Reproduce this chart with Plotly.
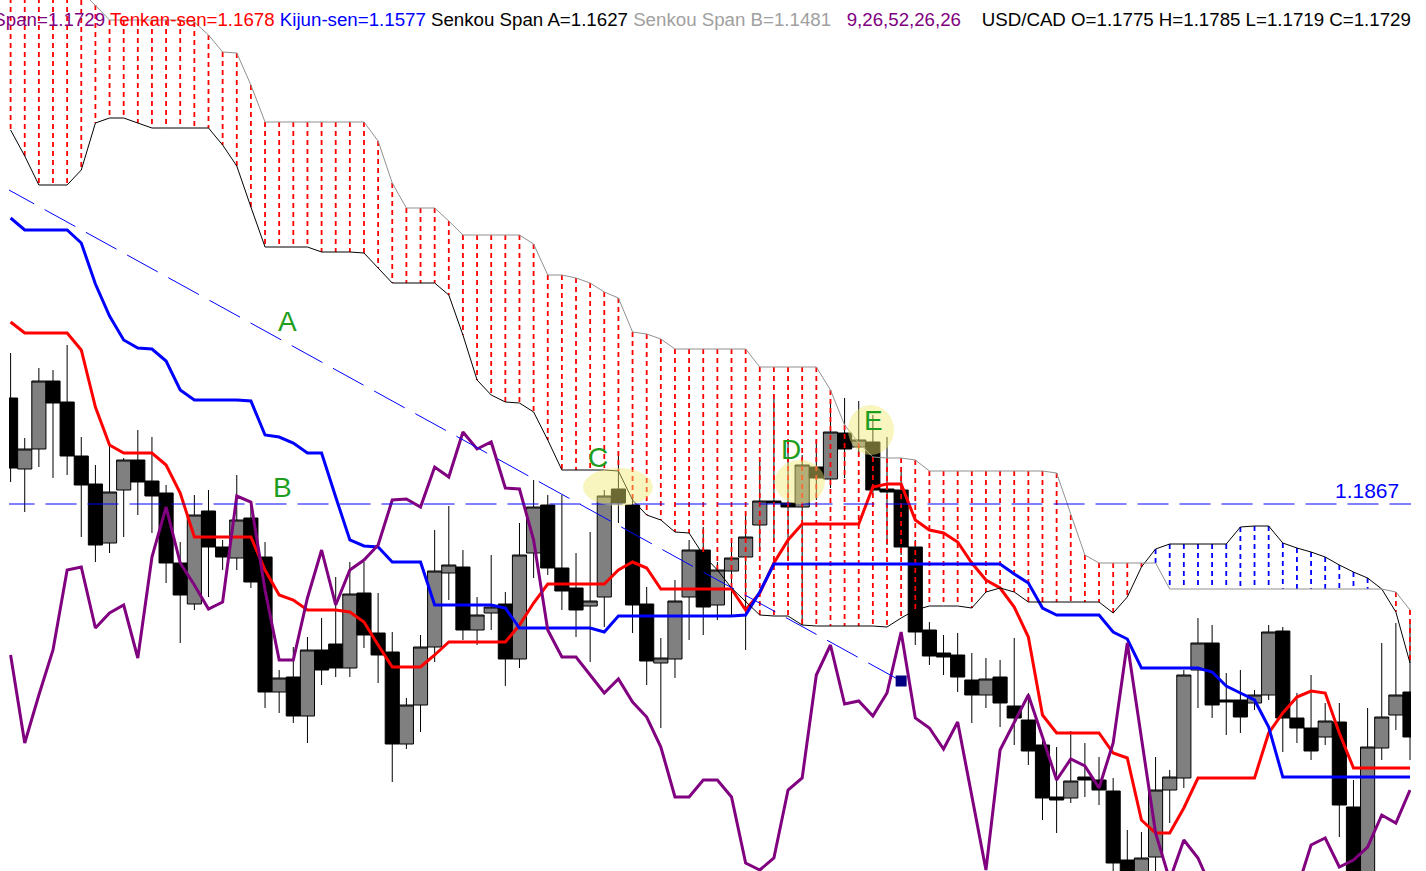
import plotly.graph_objects as go

bars = list(range(100))

open_ = [1.1973, 1.1902, 1.1922, 1.1990, 1.1969, 1.1915, 1.1887, 1.1828, 1.1881, 1.1911,
         1.1890, 1.1878, 1.1808, 1.1767, 1.1860, 1.1824, 1.1813, 1.1853, 1.1814, 1.1679,
         1.1694, 1.1655, 1.1721, 1.1727, 1.1703, 1.1778, 1.1738, 1.1719, 1.1627, 1.1666,
         1.1724, 1.1798, 1.1804, 1.1741, 1.1758, 1.1767, 1.1712, 1.1818, 1.1866, 1.1803,
         1.1783, 1.1765, 1.1774, 1.1882, 1.1866, 1.1767, 1.1708, 1.1712, 1.1774, 1.1821,
         1.1766, 1.1800, 1.1814, 1.1846, 1.1870, 1.1868, 1.1864, 1.1904, 1.1892, 1.1938,
         1.1924, 1.1929, 1.1882, 1.1881, 1.1824, 1.1741, 1.1718, 1.1716, 1.1691, 1.1676,
         1.1694, 1.1665, 1.1651, 1.1626, 1.1574, 1.1573, 1.1594, 1.1591, 1.1580, 1.1511,
         1.1491, 1.1514, 1.1581, 1.1593, 1.1701, 1.1728, 1.1671, 1.1671, 1.1668, 1.1676,
         1.1740, 1.1653, 1.1643, 1.1634, 1.1649, 1.1564, 1.1481, 1.1623, 1.1656, 1.1679]

close = [1.1903, 1.1922, 1.1990, 1.1968, 1.1915, 1.1886, 1.1826, 1.1879, 1.1911, 1.1889,
         1.1875, 1.1808, 1.1776, 1.1856, 1.1824, 1.1814, 1.1851, 1.1789, 1.1679, 1.1693,
         1.1655, 1.1721, 1.1701, 1.1703, 1.1777, 1.1736, 1.1716, 1.1627, 1.1666, 1.1724,
         1.1800, 1.1806, 1.1741, 1.1756, 1.1764, 1.1712, 1.1816, 1.1864, 1.1803, 1.1780,
         1.1761, 1.1770, 1.1875, 1.1868, 1.1766, 1.1710, 1.1713, 1.1770, 1.1821, 1.1764,
         1.1801, 1.1813, 1.1834, 1.1870, 1.1868, 1.1864, 1.1906, 1.1893, 1.1939, 1.1922,
         1.1931, 1.1881, 1.1879, 1.1824, 1.1739, 1.1715, 1.1714, 1.1694, 1.1676, 1.1692,
         1.1668, 1.1653, 1.1620, 1.1573, 1.1571, 1.1590, 1.1591, 1.1581, 1.1508, 1.1496,
         1.1513, 1.1581, 1.1594, 1.1696, 1.1728, 1.1666, 1.1669, 1.1654, 1.1676, 1.1739,
         1.1653, 1.1643, 1.1620, 1.1650, 1.1566, 1.1481, 1.1624, 1.1654, 1.1676, 1.1634]

high = [1.2018, 1.1933, 1.2003, 1.2001, 1.2026, 1.1934, 1.1906, 1.1926, 1.1913, 1.1941,
        1.1934, 1.1886, 1.1829, 1.1876, 1.1881, 1.1831, 1.1896, 1.1866, 1.1829, 1.1701,
        1.1724, 1.1734, 1.1753, 1.1794, 1.1809, 1.1809, 1.1778, 1.1739, 1.1673, 1.1736,
        1.1841, 1.1865, 1.1821, 1.1774, 1.1816, 1.1779, 1.1848, 1.1891, 1.1876, 1.1876,
        1.1818, 1.1839, 1.1881, 1.1919, 1.1876, 1.1784, 1.1733, 1.1791, 1.1831, 1.1844,
        1.1809, 1.1828, 1.1858, 1.1911, 1.1973, 1.1931, 1.1916, 1.1931, 1.1972, 1.1973,
        1.1970, 1.1956, 1.1934, 1.1901, 1.1831, 1.1749, 1.1736, 1.1738, 1.1718, 1.1713,
        1.1711, 1.1733, 1.1678, 1.1636, 1.1624, 1.1640, 1.1628, 1.1614, 1.1593, 1.1541,
        1.1539, 1.1614, 1.1601, 1.1701, 1.1753, 1.1746, 1.1698, 1.1701, 1.1681, 1.1746,
        1.1744, 1.1678, 1.1696, 1.1668, 1.1668, 1.1591, 1.1663, 1.1728, 1.1748, 1.1748]

low = [1.1889, 1.1859, 1.1904, 1.1893, 1.1896, 1.1834, 1.1809, 1.1818, 1.1834, 1.1856,
       1.1838, 1.1788, 1.1728, 1.1761, 1.1774, 1.1801, 1.1801, 1.1783, 1.1663, 1.1658,
       1.1648, 1.1628, 1.1686, 1.1694, 1.1694, 1.1723, 1.1688, 1.1589, 1.1622, 1.1639,
       1.1709, 1.1771, 1.1731, 1.1726, 1.1741, 1.1685, 1.1703, 1.1793, 1.1796, 1.1761,
       1.1734, 1.1709, 1.1744, 1.1848, 1.1738, 1.1686, 1.1643, 1.1693, 1.1731, 1.1736,
       1.1751, 1.1756, 1.1721, 1.1821, 1.1831, 1.1811, 1.1746, 1.1871, 1.1883, 1.1893,
       1.1916, 1.1876, 1.1826, 1.1816, 1.1726, 1.1706, 1.1696, 1.1679, 1.1648, 1.1663,
       1.1644, 1.1626, 1.1606, 1.1551, 1.1538, 1.1568, 1.1574, 1.1566, 1.1491, 1.1481,
       1.1481, 1.1491, 1.1548, 1.1583, 1.1663, 1.1653, 1.1636, 1.1638, 1.1661, 1.1671,
       1.1619, 1.1628, 1.1611, 1.1626, 1.1534, 1.1471, 1.1471, 1.1611, 1.1641, 1.1611]

tenkan = [1.2049, 1.2038, 1.2038, 1.2038, 1.2038, 1.2021, 1.1964, 1.1926, 1.1918, 1.1918,
          1.1918, 1.1906, 1.1878, 1.1834, 1.1834, 1.1834, 1.1834, 1.1834, 1.1801, 1.1776,
          1.1771, 1.1761, 1.1761, 1.1761, 1.1759, 1.1749, 1.1726, 1.1704, 1.1704, 1.1704,
          1.1716, 1.1729, 1.1729, 1.1729, 1.1729, 1.1729, 1.1746, 1.1768, 1.1787, 1.1787,
          1.1787, 1.1787, 1.1787, 1.1801, 1.1809, 1.1803, 1.1782, 1.1782, 1.1782, 1.1782,
          1.1782, 1.1782, 1.1761, 1.1778, 1.1808, 1.1831, 1.1847, 1.1847, 1.1847, 1.1847,
          1.1847, 1.1884, 1.1887, 1.1887, 1.1851, 1.1841, 1.1838, 1.1829, 1.1808, 1.1791,
          1.1783, 1.1764, 1.1734, 1.1656, 1.1638, 1.1638, 1.1638, 1.1638, 1.1618, 1.1613,
          1.1551, 1.1538, 1.1538, 1.1563, 1.1593, 1.1593, 1.1593, 1.1593, 1.1593, 1.1638,
          1.1658, 1.1674, 1.1680, 1.1678, 1.1638, 1.1603, 1.1603, 1.1603, 1.1603, 1.1603]

kijun = [1.2153, 1.2141, 1.2141, 1.2141, 1.2141, 1.2128, 1.2087, 1.2055, 1.2031, 1.2023,
         1.2022, 1.2010, 1.1981, 1.1971, 1.1971, 1.1971, 1.1971, 1.1970, 1.1936, 1.1934,
         1.1928, 1.1918, 1.1918, 1.1874, 1.1831, 1.1825, 1.1824, 1.1809, 1.1809, 1.1809,
         1.1766, 1.1766, 1.1766, 1.1766, 1.1766, 1.1763, 1.1743, 1.1743, 1.1743, 1.1743,
         1.1743, 1.1743, 1.1739, 1.1755, 1.1755, 1.1755, 1.1755, 1.1755, 1.1755, 1.1755,
         1.1755, 1.1755, 1.1756, 1.1779, 1.1807, 1.1807, 1.1807, 1.1807, 1.1807, 1.1807,
         1.1807, 1.1807, 1.1807, 1.1807, 1.1807, 1.1807, 1.1807, 1.1807, 1.1807, 1.1807,
         1.1807, 1.1797, 1.1788, 1.1763, 1.1756, 1.1756, 1.1756, 1.1756, 1.1739, 1.1732,
         1.1703, 1.1703, 1.1703, 1.1703, 1.1703, 1.1699, 1.1685, 1.1678, 1.1671, 1.1644,
         1.1594, 1.1594, 1.1594, 1.1594, 1.1594, 1.1594, 1.1594, 1.1594, 1.1594, 1.1594]

chikou = [1.1716, 1.1628, 1.1676, 1.1721, 1.1801, 1.1804, 1.1743, 1.1758, 1.1766, 1.1713,
          1.1814, 1.1864, 1.1808, 1.1786, 1.1762, 1.1769, 1.1875, 1.1869, 1.1781, 1.1711,
          1.1711, 1.1773, 1.1821, 1.1766, 1.1801, 1.1811, 1.1826, 1.1871, 1.1872, 1.1864,
          1.1904, 1.1894, 1.1939, 1.1922, 1.1929, 1.1883, 1.1882, 1.1831, 1.1741, 1.1714,
          1.1714, 1.1696, 1.1678, 1.1692, 1.1669, 1.1654, 1.1624, 1.1574, 1.1574, 1.1591,
          1.1591, 1.1574, 1.1508, 1.1501, 1.1513, 1.1581, 1.1593, 1.1696, 1.1726, 1.1667,
          1.1670, 1.1655, 1.1678, 1.1739, 1.1653, 1.1643, 1.1622, 1.1649, 1.1573, 1.1501,
          1.1621, 1.1649, 1.1676, 1.1634, 1.1591, 1.1612, 1.1605, 1.1583, 1.1628, 1.1728,
          1.1634, 1.1538, 1.1491, 1.1531, 1.1513, 1.1481, 1.1461, 1.1451, 1.1451, 1.1456,
          1.1466, 1.1481, 1.1526, 1.1533, 1.1504, 1.1511, 1.1524, 1.1556, 1.1548, 1.1581]

span_a = [1.2241, 1.2215, 1.2186, 1.2186, 1.2186, 1.2201, 1.2248, 1.2253, 1.2253, 1.2248,
          1.2243, 1.2243, 1.2243, 1.2243, 1.2243, 1.2226, 1.2205, 1.2164, 1.2124, 1.2124,
          1.2124, 1.2124, 1.2119, 1.2119, 1.2119, 1.2118, 1.2103, 1.2088, 1.2088, 1.2088,
          1.2088, 1.2076, 1.2036, 1.1991, 1.1976, 1.1969, 1.1968, 1.1959, 1.1931, 1.1901,
          1.1901, 1.1901, 1.1901, 1.1900, 1.1871, 1.1856, 1.1851, 1.1839, 1.1838, 1.1816,
          1.1801, 1.1783, 1.1769, 1.1756, 1.1755, 1.1755, 1.1746, 1.1745, 1.1745, 1.1745,
          1.1745, 1.1745, 1.1744, 1.1753, 1.1761, 1.1765, 1.1765, 1.1765, 1.1763, 1.1779,
          1.1783, 1.1779, 1.1769, 1.1769, 1.1769, 1.1769, 1.1769, 1.1769, 1.1758, 1.1774,
          1.1804, 1.1822, 1.1827, 1.1827, 1.1827, 1.1827, 1.1827, 1.1844, 1.1845, 1.1845,
          1.1828, 1.1823, 1.1819, 1.1814, 1.1806, 1.1799, 1.1793, 1.1782, 1.1759, 1.1708]

span_b = [1.2391, 1.2391, 1.2391, 1.2391, 1.2391, 1.2380, 1.2366, 1.2351, 1.2351, 1.2351,
          1.2351, 1.2351, 1.2351, 1.2349, 1.2336, 1.2319, 1.2318, 1.2286, 1.2249, 1.2249,
          1.2249, 1.2249, 1.2249, 1.2249, 1.2249, 1.2249, 1.2230, 1.2188, 1.2163, 1.2163,
          1.2163, 1.2150, 1.2136, 1.2136, 1.2136, 1.2136, 1.2136, 1.2127, 1.2096, 1.2096,
          1.2093, 1.2088, 1.2079, 1.2073, 1.2039, 1.2037, 1.2032, 1.2022, 1.2022, 1.2022,
          1.2022, 1.2022, 1.2022, 1.2004, 1.2004, 1.2004, 1.2004, 1.2004, 1.1981, 1.1946,
          1.1928, 1.1914, 1.1913, 1.1913, 1.1911, 1.1900, 1.1900, 1.1900, 1.1900, 1.1900,
          1.1900, 1.1900, 1.1900, 1.1900, 1.1898, 1.1856, 1.1816, 1.1808, 1.1808, 1.1808,
          1.1808, 1.1808, 1.1782, 1.1782, 1.1782, 1.1782, 1.1782, 1.1782, 1.1782, 1.1782,
          1.1782, 1.1782, 1.1782, 1.1782, 1.1782, 1.1782, 1.1782, 1.1782, 1.1779, 1.1761]

# trend line "A" (bar index, price) and horizontal level
trend_x = [-0.5, 63.0]
trend_y = [1.2184, 1.1690]
level_price = 1.1867

# chart labels
label_text = ["A", "B", "C", "D", "E"]
label_x = [19.62, 19.2, 41.55, 55.2, 61.08]
label_y = [1.2050, 1.1884, 1.1914, 1.1922, 1.1951]

# highlighted zones: (x0, x1, y0, y1)
highlights = [(40.49, 45.44, 1.1865, 1.1903),
              (54.07, 57.61, 1.1867, 1.1911),
              (59.24, 62.49, 1.1916, 1.1966)]

fig = go.Figure()

fig.add_trace(go.Candlestick(
    x=bars, open=open_, high=high, low=low, close=close,
    increasing=dict(fillcolor="#808080", line=dict(color="#000000", width=1)),
    decreasing=dict(fillcolor="#000000", line=dict(color="#000000", width=1)),
    whiskerwidth=0, hoverinfo="skip", showlegend=False))

# cloud hatch
hx_r, hy_r, hx_b, hy_b = [], [], [], []
for i, (a, b) in enumerate(zip(span_a, span_b)):
    if b > a:
        hx_r += [i, i, None]
        hy_r += [b, a, None]
    elif a > b:
        hx_b += [i, i, None]
        hy_b += [a, b, None]

fig.add_trace(go.Scatter(x=hx_r, y=hy_r, mode="lines", connectgaps=False,
                         line=dict(color="#ff0000", width=1.8, dash="5px,4px"),
                         hoverinfo="skip", showlegend=False))
fig.add_trace(go.Scatter(x=hx_b, y=hy_b, mode="lines", connectgaps=False,
                         line=dict(color="#0000ff", width=1.8, dash="5px,4px"),
                         hoverinfo="skip", showlegend=False))

fig.add_trace(go.Scatter(x=bars, y=tenkan, mode="lines",
                         line=dict(color="#ff0000", width=3), showlegend=False))
fig.add_trace(go.Scatter(x=bars, y=kijun, mode="lines",
                         line=dict(color="#0000ff", width=3), showlegend=False))
fig.add_trace(go.Scatter(x=bars, y=chikou, mode="lines",
                         line=dict(color="#800080", width=3), showlegend=False))
fig.add_trace(go.Scatter(x=bars, y=span_a, mode="lines",
                         line=dict(color="#000000", width=1), showlegend=False))
fig.add_trace(go.Scatter(x=bars, y=span_b, mode="lines",
                         line=dict(color="#909090", width=1), showlegend=False))

# horizontal level
fig.add_trace(go.Scatter(x=[-0.5, 99.5], y=[level_price, level_price], mode="lines",
                         line=dict(color="#0000ff", width=1, dash="31px,11px"),
                         showlegend=False))
# trend line
fig.add_trace(go.Scatter(x=trend_x, y=trend_y, mode="lines",
                         line=dict(color="#0000ff", width=1, dash="35px,12px"),
                         showlegend=False))
fig.add_trace(go.Scatter(x=[trend_x[1]], y=[trend_y[1]], mode="markers",
                         marker=dict(symbol="square", size=11, color="#000080"),
                         showlegend=False))

shapes = []
for (x0, x1, y0, y1) in highlights:
    shapes.append(dict(type="circle", xref="x", yref="y", x0=x0, x1=x1, y0=y0, y1=y1,
                       fillcolor="rgba(240,235,110,0.45)", line=dict(width=0), layer="above"))

annotations = []
for t, x, y in zip(label_text, label_x, label_y):
    annotations.append(dict(x=x, y=y, xref="x", yref="y", text=t, showarrow=False,
                            font=dict(family="Liberation Sans, Arial", size=28, color="#1e9e1e")))

annotations.append(dict(x=98.36, y=level_price, xref="x", yref="y", text="1.1867",
                        showarrow=False, xanchor="right", yanchor="bottom",
                        font=dict(family="Liberation Sans, Arial", size=21, color="#0000ff")))

header = ('<span style="color:#800080">Chikou Span=1.1729</span> '
          '<span style="color:#ff0000">Tenkan-sen=1.1678</span> '
          '<span style="color:#0000ff">Kijun-sen=1.1577</span> '
          '<span style="color:#000000">Senkou Span A=1.1627</span> '
          '<span style="color:#a0a0a0">Senkou Span B=1.1481</span>&nbsp;&nbsp; '
          '<span style="color:#800080">9,26,52,26,26</span>&nbsp;&nbsp;&nbsp; '
          '<span style="color:#000000">USD/CAD O=1.1775 H=1.1785 L=1.1719 C=1.1729</span>')
annotations.append(dict(x=1.0015, y=0.978, xref="paper", yref="paper", text=header,
                        showarrow=False, xanchor="right", yanchor="middle",
                        font=dict(family="Liberation Sans, Arial", size=18.7, color="#000000")))

fig.update_layout(
    width=1426, height=871,
    margin=dict(l=9, r=15, t=0, b=0),
    paper_bgcolor="#ffffff", plot_bgcolor="#ffffff",
    showlegend=False, hovermode=False,
    boxgap=0, boxgroupgap=0,
    shapes=shapes, annotations=annotations,
    xaxis=dict(range=[-0.113, 99.07], showgrid=False, zeroline=False, showticklabels=False,
               showline=False, rangeslider=dict(visible=False), fixedrange=True),
    yaxis=dict(range=[1.1500, 1.2371], showgrid=False, zeroline=False, showticklabels=False,
               showline=False, fixedrange=True),
)

fig.write_html("out.html",
               config={"displayModeBar": False},
               post_script="document.body.style.margin='0';document.body.style.overflow='hidden';")
